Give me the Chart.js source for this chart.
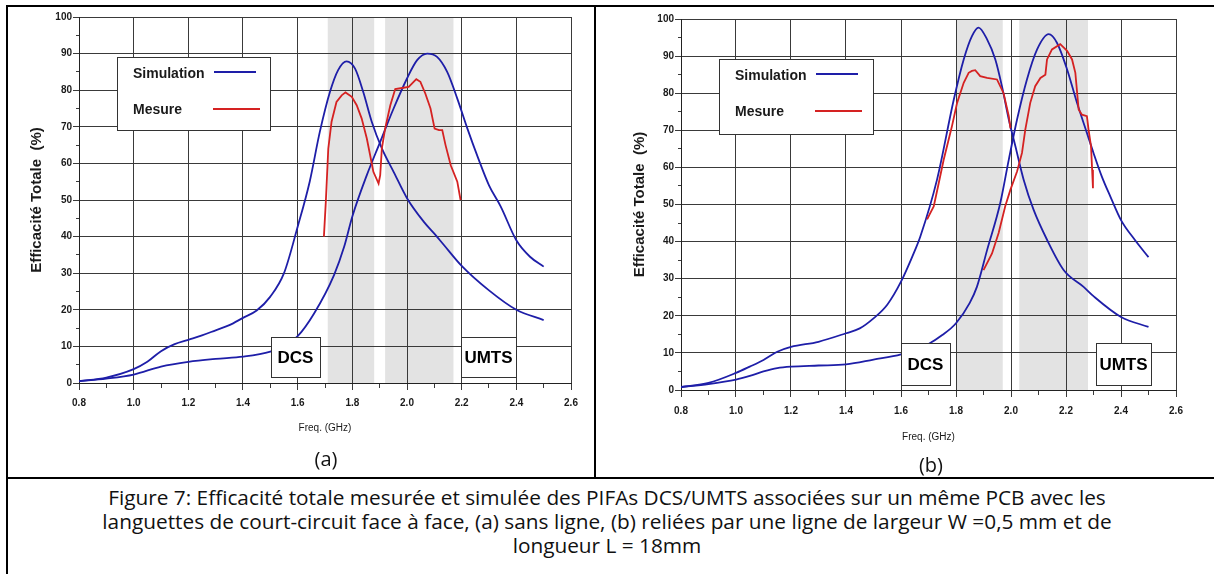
<!DOCTYPE html>
<html>
<head>
<meta charset="utf-8">
<script src="https://cdn.jsdelivr.net/npm/chart.js"></script>
<style>
  body { margin: 0; background: #fff; width: 1214px; height: 574px; position: relative; overflow: hidden; font-family: "Open Sans", sans-serif; color: #111; }
  .rule { position: absolute; background: #000; }
  canvas { position: absolute; }
  .sub { position: absolute; width: 200px; text-align: center; font-size: 20px; line-height: 24px; }
  .caption { position: absolute; left: 0; width: 1214px; top: 485px; text-align: center; font-size: 20.8px; line-height: 24px; white-space: nowrap; }
</style>
</head>
<body>
<div class="rule" style="left:6px;top:5px;width:1208px;height:2px"></div>
<div class="rule" style="left:6px;top:5px;width:2px;height:569px"></div>
<div class="rule" style="left:594px;top:5px;width:2px;height:474px"></div>
<div class="rule" style="left:6px;top:477px;width:1208px;height:2px"></div>

<canvas id="chartA" width="582" height="442" style="left:10px;top:8px"></canvas>
<canvas id="chartB" width="590" height="450" style="left:612px;top:8px"></canvas>

<div class="sub" style="left:226px;top:447px">(a)</div>
<div class="sub" style="left:831px;top:453px">(b)</div>

<div class="caption">Figure 7: Efficacité totale mesurée et simulée des PIFAs DCS/UMTS associées sur un même PCB avec les<br>languettes de court-circuit face à face, (a) sans ligne, (b) reliées par une ligne de largeur W =0,5 mm et de<br>longueur L = 18mm</div>

<script>
// axis ticks
const freqTicks = [0.8, 1.0, 1.2, 1.4, 1.6, 1.8, 2.0, 2.2, 2.4, 2.6];
const effTicks = [0, 10, 20, 30, 40, 50, 60, 70, 80, 90, 100];

// ---- (a) sans ligne ----
const freqSimDcsA = [0.8, 0.9, 1.0, 1.05, 1.1, 1.15, 1.2, 1.25, 1.3, 1.35, 1.4, 1.45, 1.5, 1.55, 1.6, 1.644, 1.681, 1.718, 1.748, 1.779, 1.81, 1.84, 1.871, 1.908, 1.951, 2.0, 2.061, 2.1, 2.135, 2.2, 2.3, 2.4, 2.5];
const effSimDcsA = [0.5, 1.5, 3.8, 5.8, 8.7, 10.6, 11.8, 13.0, 14.4, 15.8, 17.8, 19.8, 23.6, 30.0, 42.7, 55.0, 68.6, 79.5, 85.5, 87.9, 85.9, 79.5, 71.4, 64.1, 57.7, 50.5, 44.1, 40.8, 37.7, 32.0, 25.3, 20.0, 17.2];

const freqSimUmtsA = [0.8, 0.9, 1.0, 1.1, 1.2, 1.3, 1.4, 1.5, 1.55, 1.6, 1.66, 1.733, 1.77, 1.8, 1.853, 1.902, 1.951, 2.0, 2.037, 2.074, 2.11, 2.147, 2.184, 2.221, 2.26, 2.3, 2.343, 2.4, 2.45, 2.5];
const effSimUmtsA = [0.5, 1.2, 2.3, 4.5, 5.8, 6.6, 7.2, 8.6, 10.2, 12.8, 19.0, 29.5, 37.2, 45.5, 56.8, 65.9, 75.0, 83.2, 88.2, 90.0, 89.1, 85.0, 77.7, 69.5, 61.5, 54.0, 48.2, 39.0, 34.5, 31.8];

const freqMesA = [1.696, 1.703, 1.712, 1.724, 1.742, 1.761, 1.775, 1.798, 1.816, 1.834, 1.853, 1.865, 1.877, 1.896, 1.902, 1.908, 1.92, 1.939, 1.957, 1.982, 2.006, 2.018, 2.034, 2.049, 2.067, 2.086, 2.101, 2.117, 2.129, 2.141, 2.16, 2.184, 2.196];
const effMesA = [40.0, 49.5, 64.0, 71.4, 76.8, 78.6, 79.4, 78.2, 75.9, 72.3, 66.8, 62.3, 57.7, 54.5, 56.8, 64.1, 69.5, 75.9, 80.3, 80.6, 80.9, 81.8, 83.0, 82.3, 79.1, 75.0, 69.5, 69.1, 69.1, 65.0, 59.5, 55.0, 50.0];

const bandsA = [[1.71, 1.88], [1.92, 2.17]];

// ---- (b) ligne W = 0,5 mm ----
const freqSimDcsB = [0.8, 0.9, 1.0, 1.05, 1.1, 1.15, 1.2, 1.3, 1.4, 1.45, 1.5, 1.55, 1.6, 1.651, 1.67, 1.731, 1.792, 1.828, 1.858, 1.882, 1.913, 1.943, 1.967, 1.992, 2.016, 2.046, 2.082, 2.131, 2.192, 2.264, 2.3, 2.4, 2.5];
const effSimDcsB = [0.8, 1.9, 4.6, 6.3, 8.1, 10.3, 11.6, 13.0, 15.3, 16.6, 19.3, 23.0, 29.2, 37.7, 41.3, 56.7, 78.3, 89.1, 95.4, 97.7, 94.5, 89.1, 81.9, 72.9, 65.7, 56.7, 48.6, 40.5, 32.3, 27.8, 25.3, 19.7, 17.0];

const freqSimUmtsB = [0.8, 0.9, 1.0, 1.05, 1.1, 1.15, 1.2, 1.3, 1.4, 1.5, 1.6, 1.7, 1.75, 1.8, 1.85, 1.876, 1.913, 1.961, 1.992, 2.022, 2.058, 2.095, 2.137, 2.167, 2.204, 2.24, 2.276, 2.3, 2.33, 2.361, 2.4, 2.45, 2.5];
const effSimUmtsB = [0.8, 1.6, 2.8, 3.8, 5.0, 5.9, 6.3, 6.6, 6.9, 8.2, 9.6, 12.4, 14.8, 18.0, 23.5, 27.8, 37.7, 50.4, 62.1, 72.9, 83.7, 91.8, 95.9, 93.6, 86.4, 77.4, 69.3, 63.9, 57.6, 52.2, 45.8, 40.5, 35.8];

const freqMesDcsB = [1.695, 1.705, 1.719, 1.735, 1.755, 1.785, 1.804, 1.828, 1.846, 1.858, 1.87, 1.888, 1.913, 1.949, 1.973, 1.992, 1.998];
const effMesDcsB = [46.0, 47.5, 49.5, 55.0, 62.0, 71.0, 77.4, 82.8, 85.5, 86.0, 86.2, 84.6, 84.1, 83.7, 80.0, 73.8, 70.5];

const freqMesUmtsB = [1.9, 1.931, 1.955, 1.979, 1.998, 2.022, 2.04, 2.052, 2.07, 2.088, 2.107, 2.125, 2.131, 2.149, 2.179, 2.204, 2.222, 2.234, 2.246, 2.258, 2.276, 2.282, 2.291, 2.295, 2.298];
const effMesUmtsB = [32.3, 36.8, 42.3, 49.5, 54.0, 58.9, 63.9, 70.2, 77.4, 81.9, 84.1, 85.0, 89.1, 91.8, 93.2, 91.4, 89.1, 85.5, 75.6, 74.2, 73.8, 70.2, 65.7, 59.4, 54.4];

const bandsB = [[1.8, 1.97], [2.03, 2.28]];

const simColor = '#1e1ea8';
const mesColor = '#d52222';
const gridColor = '#3a3a3a';
const inkColor = '#1a1a1a';
const sans = '"Liberation Sans", Arial, sans-serif';

function pts(fs, vs) {
  return fs.map((f, i) => ({ x: f, y: vs[i] }));
}
function simSet(fs, vs) {
  return { data: pts(fs, vs), borderColor: simColor, borderWidth: 1.8, cubicInterpolationMode: 'monotone' };
}
function mesSet(fs, vs) {
  return { data: pts(fs, vs), borderColor: mesColor, borderWidth: 1.8, tension: 0 };
}
// pixel column / row of a 1px line, same snapping as chart.js
function cell(p) {
  return Math.round(p - 0.5);
}

// gray bands + grid (as 1px fills), then DCS / UMTS boxes and the legend box
const panelDecor = {
  id: 'panelDecor',
  beforeDraw(chart, args, opts) {
    const { ctx, chartArea: a, scales: { x, y } } = chart;
    const L = cell(a.left), R = cell(a.right), T = cell(a.top), B = cell(a.bottom);
    ctx.save();
    ctx.fillStyle = '#e3e3e3';
    opts.bands.forEach(([f0, f1]) => {
      const x0 = x.getPixelForValue(f0), x1 = x.getPixelForValue(f1);
      ctx.fillRect(x0, a.top, x1 - x0, a.bottom - a.top);
    });
    ctx.fillStyle = gridColor;
    freqTicks.forEach(f => {
      ctx.fillRect(cell(x.getPixelForValue(f)), T, 1, B - T + 7);
    });
    effTicks.forEach(v => {
      ctx.fillRect(L - 6, cell(y.getPixelForValue(v)), R - L + 7, 1);
    });
    for (let v = 5; v < 100; v += 10) {
      ctx.fillRect(L - 3, cell(y.getPixelForValue(v)), 3, 1);
    }
    for (let k = 0; k < freqTicks.length - 1; k++) {
      ctx.fillRect(cell(x.getPixelForValue((freqTicks[k] + freqTicks[k + 1]) / 2)), B, 1, 5);
    }
    ctx.fillStyle = '#222';
    ctx.fillRect(L, T, 1, B - T + 1);
    ctx.fillRect(L, B, R - L + 1, 1);
    ctx.restore();
  },
  afterDatasetsDraw(chart, args, opts) {
    const { ctx, scales: { x, y } } = chart;
    ctx.save();
    ctx.fillStyle = '#333';
    // box with a 1px frame drawn as fills
    const frame = (x0, y0, x1, y1) => {
      ctx.fillStyle = '#fff';
      ctx.fillRect(x0, y0, x1 - x0, y1 - y0);
      ctx.fillStyle = '#333';
      ctx.fillRect(x0, y0, x1 - x0 + 1, 1);
      ctx.fillRect(x0, y1, x1 - x0 + 1, 1);
      ctx.fillRect(x0, y0, 1, y1 - y0 + 1);
      ctx.fillRect(x1, y0, 1, y1 - y0 + 1);
    };
    opts.boxes.forEach(b => {
      const x0 = cell(x.getPixelForValue(b.x0)), x1 = cell(x.getPixelForValue(b.x1));
      const y0 = cell(y.getPixelForValue(b.y1)), y1 = cell(y.getPixelForValue(b.y0));
      frame(x0, y0, x1, y1);
      ctx.fillStyle = '#000';
      ctx.font = 'bold 17px ' + sans;
      ctx.textAlign = 'center';
      ctx.textBaseline = 'middle';
      ctx.fillText(b.text, (x0 + x1) / 2, (y0 + y1) / 2 + 1);
    });
    const lx = cell(x.getPixelForValue(0.94)), rx = cell(x.getPixelForValue(1.5));
    const ty = cell(y.getPixelForValue(89)), by = cell(y.getPixelForValue(69));
    frame(lx, ty, rx, by);
    ctx.font = 'bold 14px ' + sans;
    ctx.textAlign = 'left';
    ctx.textBaseline = 'middle';
    ctx.fillStyle = inkColor;
    ctx.fillText('Simulation', lx + 16, ty + 17);
    ctx.fillText('Mesure', lx + 16, ty + 53);
    ctx.fillStyle = simColor;
    ctx.fillRect(lx + 97, ty + 14, 42, 2);
    ctx.fillStyle = mesColor;
    ctx.fillRect(lx + 96, ty + 51, 47, 2);
    ctx.restore();
  }
};

function makeChart(id, datasets, decor, lay) {
  return new Chart(document.getElementById(id), {
    type: 'line',
    data: { datasets },
    options: {
      responsive: false,
      animation: false,
      events: [],
      layout: { padding: { left: 0, top: lay.top, right: lay.right, bottom: 0 } },
      elements: { point: { radius: 0 } },
      plugins: { legend: { display: false }, tooltip: { enabled: false }, panelDecor: decor },
      scales: {
        x: {
          type: 'linear',
          min: 0.8,
          max: 2.6,
          afterBuildTicks: s => { s.ticks = freqTicks.map(v => ({ value: v })); },
          afterFit: s => { s.height = lay.xHeight; },
          grid: { color: gridColor, tickColor: gridColor, tickLength: 6 },
          border: { color: '#222' },
          ticks: { padding: lay.xPad, color: inkColor, autoSkip: false, maxRotation: 0, font: { family: sans, size: 10, weight: 'bold' }, callback: v => v.toFixed(1) },
          title: { display: true, text: 'Freq. (GHz)', color: inkColor, font: { family: sans, size: 10 }, padding: { top: 0, bottom: lay.xTitle } }
        },
        y: {
          min: 0,
          max: 100,
          afterBuildTicks: s => { s.ticks = effTicks.map(v => ({ value: v })); },
          afterFit: s => { s.width = 69; },
          grid: { color: gridColor, tickColor: gridColor, tickLength: 6 },
          border: { color: '#222' },
          ticks: { padding: 1, color: inkColor, font: { family: sans, size: 10, weight: 'bold' } },
          title: { display: true, text: 'Efficacité Totale  (%)', color: inkColor, font: { family: sans, size: 15, weight: 'bold' }, padding: { top: lay.yTitle, bottom: 0 } }
        }
      }
    },
    plugins: [panelDecor]
  });
}

makeChart('chartA', [
  mesSet(freqMesA, effMesA),
  simSet(freqSimDcsA, effSimDcsA),
  simSet(freqSimUmtsA, effSimUmtsA)
], {
  bands: bandsA,
  boxes: [
    { text: 'DCS', x0: 1.505, x1: 1.685, y0: 1.4, y1: 12.3 },
    { text: 'UMTS', x0: 2.2, x1: 2.4, y0: 1.4, y1: 12.3 }
  ]
}, { top: 9, right: 21, xHeight: 67, xPad: 8, xTitle: 16, yTitle: 18 });

makeChart('chartB', [
  mesSet(freqMesDcsB, effMesDcsB),
  mesSet(freqMesUmtsB, effMesUmtsB),
  simSet(freqSimDcsB, effSimDcsB),
  simSet(freqSimUmtsB, effSimUmtsB)
], {
  bands: bandsB,
  boxes: [
    { text: 'DCS', x0: 1.6, x1: 1.78, y0: 1.3, y1: 12.4 },
    { text: 'UMTS', x0: 2.31, x1: 2.51, y0: 1.3, y1: 12.4 }
  ]
}, { top: 11, right: 26, xHeight: 68, xPad: 9, xTitle: 15, yTitle: 19 });
</script>
</body>
</html>
